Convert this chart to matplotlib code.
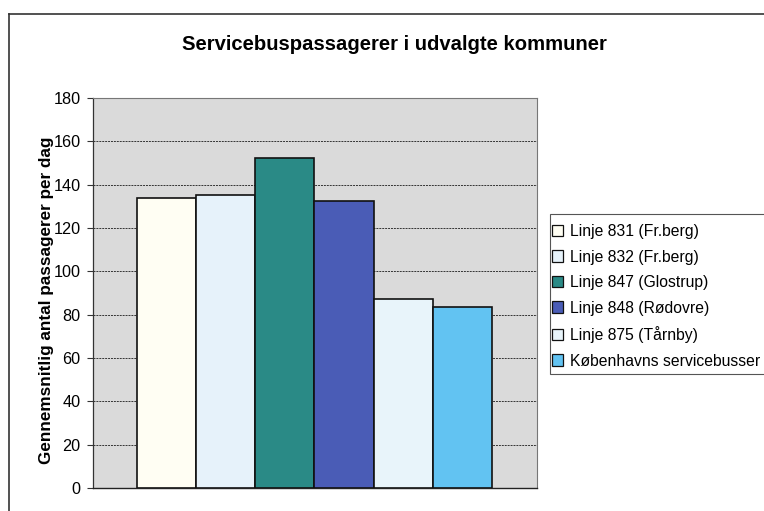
import matplotlib
matplotlib.use("Agg")
import matplotlib.pyplot as plt
from matplotlib.lines import Line2D
from matplotlib.patches import Patch, Rectangle

plt.rcParams['font.family'] = ['Liberation Sans', 'DejaVu Sans']

series = ["Linje 831 (Fr.berg)", "Linje 832 (Fr.berg)", "Linje 847 (Glostrup)",
          "Linje 848 (Rødovre)", "Linje 875 (Tårnby)", "Københavns servicebusser"]
values = [133.7, 135.2, 152.4, 132.5, 87.1, 83.4]
colors = ["#FFFEF3", "#E6F2FA", "#2A8A86", "#4A5CB6", "#E8F4FA", "#62C3F2"]
yticks = [0, 20, 40, 60, 80, 100, 120, 140, 160, 180]
title = "Servicebuspassagerer i udvalgte kommuner"
ylabel = "Gennemsnitlig antal passagerer per dag"

W, H = 764, 511
fig = plt.figure(figsize=(W/100, H/100), dpi=100)
fig.patch.set_facecolor("white")

ax = fig.add_axes([93/W, 1-488/H, (537-93)/W, (488-98)/H])
ax.set_facecolor("#DADADA")

for i, (v, c) in enumerate(zip(values, colors)):
    ax.bar(i, v, width=1.0, color=c, edgecolor="#111111", linewidth=1.2, zorder=3, label=series[i])

ax.set_xlim(-1.24, 6.26)
ax.set_ylim(0, 180)
ax.set_yticks(yticks)
ax.set_yticklabels([str(t) for t in yticks], fontsize=11.7)
ax.set_xticks([])
ax.yaxis.grid(True, color="#333333", linestyle=(0, (2, 1)), linewidth=0.7, zorder=0)
ax.set_axisbelow(True)
ax.tick_params(axis='y', length=4, width=0.8, color="#333333", pad=5)

for s in ["top", "right"]:
    ax.spines[s].set_color("#777777")
    ax.spines[s].set_linestyle((0, (2, 1)))
    ax.spines[s].set_linewidth(0.8)
ax.spines["left"].set_color("#333333")
ax.spines["left"].set_linewidth(0.9)
ax.spines["bottom"].set_color("#222222")
ax.spines["bottom"].set_linewidth(1.0)

fig.text(47/W, 1-300/H, ylabel, rotation=90, ha="center", va="center",
         fontsize=12.3, fontweight="bold")

fig.text(394/W, 1-44/H, title, ha="center", va="center", fontsize=14.6, fontweight="bold")

# outer chart border (left and top visible)
fig.add_artist(Line2D([9/W, 1.0], [1-14/H, 1-14/H], transform=fig.transFigure, color="#333333", linewidth=1.2))
fig.add_artist(Line2D([9/W, 9/W], [1-14/H, 0.0], transform=fig.transFigure, color="#333333", linewidth=1.2))

# legend frame
fig.add_artist(Rectangle((550/W, 1-374/H), (780-550)/W, (374-214)/H, transform=fig.transFigure,
                         facecolor="white", edgecolor="#555555", linewidth=0.8, zorder=1))

handles = [Patch(facecolor=c, edgecolor="#111111", linewidth=0.9) for c in colors]
leg = fig.legend(handles, series, loc="upper left", bbox_to_anchor=(552/W, 1-224/H),
                 fontsize=11.3, frameon=False, handlelength=0.72, handleheight=0.72,
                 handletextpad=0.45, labelspacing=0.67, borderpad=0, borderaxespad=0)
leg.set_zorder(2)

fig.savefig("out.png", dpi=100)
